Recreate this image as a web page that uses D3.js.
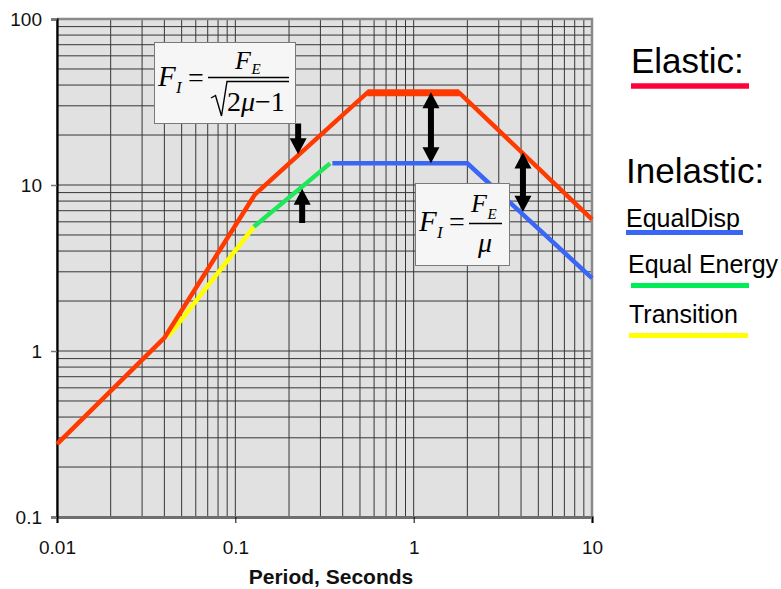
<!DOCTYPE html>
<html>
<head>
<meta charset="utf-8">
<script src="https://cdn.jsdelivr.net/npm/d3@7"></script>
<style>
  html, body { margin: 0; padding: 0; background: #fff; }
  svg { display: block; }
</style>
</head>
<body>
<svg id="chart" width="781" height="589"></svg>
<script>
// Response spectra: elastic vs. inelastic force demand (log-log)
const xTickValues = [0.01, 0.1, 1, 10];
const xTickLabels = ["0.01", "0.1", "1", "10"];
const yTickValues = [0.1, 1, 10, 100];
const yTickLabels = ["0.1", "1", "10", "100"];

const elasticPeriods = [0.01, 0.04, 0.129, 0.55, 1.8, 10];
const elasticValues  = [0.275, 1.2, 8.8, 36, 36, 6.2];

const transitionPeriods = [0.042, 0.127];
const transitionValues  = [1.22, 5.6];

const energyPeriods = [0.127, 0.34];
const energyValues  = [5.6, 13.5];

const dispPeriods = [0.35, 2.0, 10];
const dispValues  = [13.5, 13.5, 2.75];

// arrows: period, tail value, tip value, double-headed?
const arrowPeriods = [0.225, 0.237, 1.25, 4.1];
const arrowFrom    = [23.5, 5.9, 13.5, 6.9];
const arrowTo      = [15.3, 9.5, 36.2, 15.7];
const arrowDouble  = [false, false, true, true];

const legendLabels = ["EqualDisp", "Equal Energy", "Transition"];

const svg = d3.select("#chart");
const plotL = 57, plotR = 592, plotT = 19, plotB = 517;

const x = d3.scaleLog().domain([0.01, 10]).range([plotL, plotR]);
const y = d3.scaleLog().domain([0.1, 100]).range([plotB, plotT]);

// plot background
svg.append("rect")
  .attr("x", plotL).attr("y", plotT)
  .attr("width", plotR - plotL).attr("height", plotB - plotT)
  .attr("fill", "#e1e1e1");

// log grid (every 1..9 per decade)
const grid = svg.append("g").attr("stroke", "#363636").attr("stroke-width", 1);
grid.selectAll("line.v").data(x.ticks()).join("line")
  .attr("class", "v")
  .attr("x1", d => x(d)).attr("x2", d => x(d))
  .attr("y1", plotT).attr("y2", plotB);
grid.selectAll("line.h").data(y.ticks()).join("line")
  .attr("class", "h")
  .attr("x1", plotL).attr("x2", plotR)
  .attr("y1", d => y(d)).attr("y2", d => y(d));

// frame: top and right in grey
svg.append("path")
  .attr("d", `M${plotL},${plotT}H${plotR}V${plotB}`)
  .attr("fill", "none").attr("stroke", "#8a8a8a").attr("stroke-width", 2.5);

// axes
const xAxis = d3.axisBottom(x)
  .tickValues(xTickValues)
  .tickFormat((d, i) => xTickLabels[i])
  .tickSize(6).tickPadding(18);
const gx = svg.append("g").attr("transform", `translate(0,${plotB})`).call(xAxis);
gx.select(".domain").attr("stroke", "#6e6e6e").attr("stroke-width", 3);
gx.selectAll(".tick line").attr("stroke", "#000");
gx.selectAll("text")
  .attr("font-family", "Liberation Sans, Arial, sans-serif")
  .attr("font-size", 19).attr("fill", "#111");

const yAxis = d3.axisLeft(y)
  .tickValues(yTickValues)
  .tickFormat((d, i) => yTickLabels[i])
  .tickSize(6).tickPadding(9);
const gy = svg.append("g").attr("transform", `translate(${plotL},0)`).call(yAxis);
gy.select(".domain").attr("stroke", "#000").attr("stroke-width", 2.2);
gy.selectAll(".tick line").attr("stroke", "#777").attr("stroke-width", 1.5);
gy.selectAll("text")
  .attr("font-family", "Liberation Sans, Arial, sans-serif")
  .attr("font-size", 19).attr("fill", "#111");

svg.append("text")
  .attr("x", 331).attr("y", 584)
  .attr("text-anchor", "middle")
  .attr("font-family", "Liberation Sans, Arial, sans-serif")
  .attr("font-weight", "bold").attr("font-size", 21)
  .attr("fill", "#111")
  .text("Period, Seconds");

// spectrum lines
const line = d3.line().x(d => x(d[0])).y(d => y(d[1]));
const zip = (a, b) => a.map((v, i) => [v, b[i]]);

function drawSeries(pts, color, w) {
  svg.append("path")
    .datum(pts)
    .attr("d", line)
    .attr("fill", "none")
    .attr("stroke", color)
    .attr("stroke-width", w)
    .attr("stroke-linejoin", "miter")
    .attr("stroke-linecap", "butt");
}

drawSeries(zip(dispPeriods, dispValues), "#3a66f6", 4.5);
drawSeries(zip(energyPeriods, energyValues), "#1ee85a", 4.5);
drawSeries(zip(transitionPeriods, transitionValues), "#ffff00", 4.5);
const elasticPts = zip(elasticPeriods, elasticValues);
drawSeries(elasticPts, "#ff3a00", 4.5);
// heavier plateau of the elastic spectrum
drawSeries(elasticPts.slice(3, 5), "#ff3a00", 7);

// arrows
function arrowPath(px, y0, y1, dbl) {
  const hl = 16, hw = 8.5, sw = 3;
  const dir = y1 > y0 ? 1 : -1;
  const tipB = y1, baseB = y1 - dir * hl;
  const tipA = y0, baseA = dbl ? y0 + dir * hl : y0;
  let p = `M${px - sw},${baseA}`;
  if (dbl) p = `M${px - sw},${baseA}L${px - hw},${baseA}L${px},${tipA}L${px + hw},${baseA}L${px + sw},${baseA}`;
  else p += `L${px + sw},${baseA}`;
  p += `L${px + sw},${baseB}L${px + hw},${baseB}L${px},${tipB}L${px - hw},${baseB}L${px - sw},${baseB}Z`;
  return p;
}
svg.append("g").selectAll("path")
  .data(arrowPeriods.map((p, i) => ({ p, a: arrowFrom[i], b: arrowTo[i], d: arrowDouble[i] })))
  .join("path")
  .attr("d", d => arrowPath(x(d.p), y(d.a), y(d.b), d.d))
  .attr("fill", "#000");

// formula boxes
const serif = "Liberation Serif, Times New Roman, serif";
function box(bx, by, bw, bh) {
  svg.append("rect")
    .attr("x", bx + 0.5).attr("y", by + 0.5)
    .attr("width", bw).attr("height", bh)
    .attr("fill", "#f6f6f6").attr("stroke", "#7a7a7a").attr("stroke-width", 1);
}
function txt(tx, ty, s, size, italic) {
  svg.append("text")
    .attr("x", tx).attr("y", ty)
    .attr("font-family", serif)
    .attr("font-size", size)
    .attr("font-style", italic ? "italic" : "normal")
    .attr("fill", "#000")
    .text(s);
}
function hline(x1, x2, yy) {
  svg.append("line").attr("x1", x1).attr("x2", x2).attr("y1", yy).attr("y2", yy)
    .attr("stroke", "#000").attr("stroke-width", 1.3);
}

// F_I = F_E / sqrt(2mu - 1)
box(154, 42, 141, 81);
txt(158, 86, "F", 29, true);
txt(176, 93, "I", 17, true);
txt(188, 87, "=", 28, false);
hline(208, 289, 77.5);
txt(235, 69, "F", 26, true);
txt(251.5, 74, "E", 15, true);
svg.append("path")
  .attr("d", "M211,98L215.5,95.5L221.5,116L227,81.5H289")
  .attr("fill", "none").attr("stroke", "#000").attr("stroke-width", 1.4)
  .attr("stroke-linejoin", "miter");
svg.append("text")
  .attr("x", 227).attr("y", 111)
  .attr("font-family", serif).attr("font-size", 28).attr("fill", "#000")
  .call(t => {
    t.append("tspan").text("2");
    t.append("tspan").attr("font-style", "italic").text("\u03BC");
    t.append("tspan").text("\u22121");
  });

// F_I = F_E / mu
box(415, 183, 94, 82);
txt(419, 231, "F", 29, true);
txt(437, 238, "I", 17, true);
txt(449, 231, "=", 28, false);
hline(469, 502, 223.5);
txt(471, 212, "F", 26, true);
txt(487.5, 219, "E", 15, true);
txt(478, 252, "\u03BC", 28, true);

// legend
const sans = "Liberation Sans, Arial, sans-serif";
svg.append("text").attr("x", 631).attr("y", 73)
  .attr("font-family", sans).attr("font-size", 35).attr("fill", "#000").text("Elastic:");
svg.append("line").attr("x1", 631).attr("x2", 749).attr("y1", 86).attr("y2", 86)
  .attr("stroke", "#ff0038").attr("stroke-width", 5.5);

svg.append("text").attr("x", 626).attr("y", 183)
  .attr("font-family", sans).attr("font-size", 35).attr("fill", "#000").text("Inelastic:");

const legendColors = ["#3a66f6", "#00ee55", "#ffff00"];
const legendTextX = [626, 628, 629];
const legendTextY = [227, 273, 323];
const legendLineY = [232.5, 285.5, 335.5];
const legendLineX = [[626, 743], [631, 749], [629, 748]];
legendLabels.forEach((lab, i) => {
  svg.append("text").attr("x", legendTextX[i]).attr("y", legendTextY[i])
    .attr("font-family", sans).attr("font-size", 25).attr("fill", "#000").text(lab);
  svg.append("line")
    .attr("x1", legendLineX[i][0]).attr("x2", legendLineX[i][1])
    .attr("y1", legendLineY[i]).attr("y2", legendLineY[i])
    .attr("stroke", legendColors[i]).attr("stroke-width", 5);
});
</script>
</body>
</html>
